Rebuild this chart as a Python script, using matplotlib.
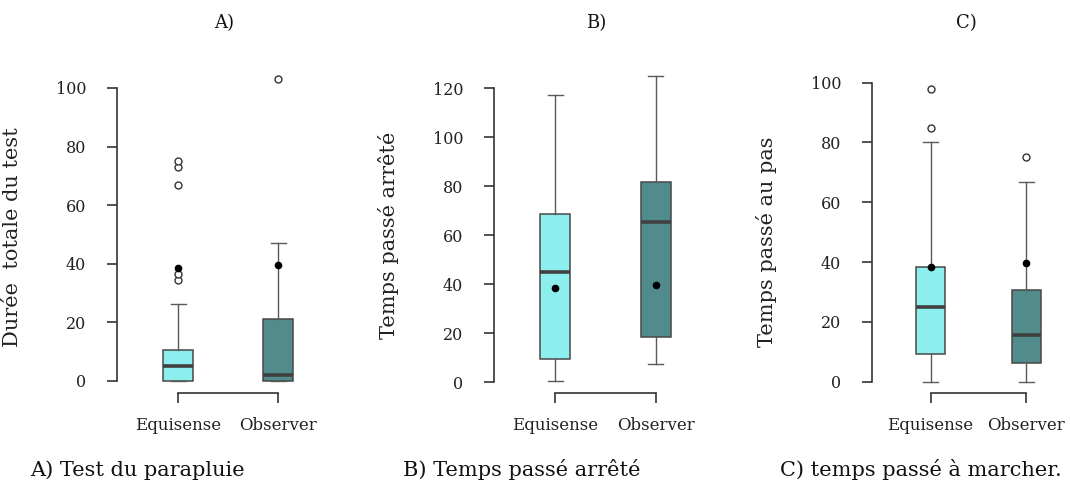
import matplotlib
matplotlib.use('Agg')
import matplotlib.pyplot as plt

# groups and colours (R darkslategray2 / darkslategray4)
groups = ['Equisense', 'Observer']
box_colors = ['#8DEEEE', '#528B8B']

titles = ['A)', 'B)', 'C)']
captions = ['A) Test du parapluie', 'B) Temps passé arrêté', 'C) temps passé à marcher.']
ylabels = ['Durée  totale du test', 'Temps passé arrêté', 'Temps passé au pas']
yticks = [[0, 20, 40, 60, 80, 100],
          [0, 20, 40, 60, 80, 100, 120],
          [0, 20, 40, 60, 80, 100]]

# box statistics: [Equisense, Observer] per panel
whislo = [[0, 0], [0.5, 7.3], [0, 0]]
q1 = [[0, 0], [9.3, 18.4], [9.1, 6.3]]
med = [[5.1, 2.0], [45.2, 65.4], [24.9, 15.6]]
q3 = [[10.6, 21.0], [68.7, 81.8], [38.2, 30.7]]
whishi = [[26.2, 47.0], [117.4, 125.2], [80.1, 66.8]]
fliers = [[[34.5, 36.5, 67, 73, 75], [103]],
          [[], []],
          [[85, 98], [75.2]]]
means = [[38.5, 39.5], [38.3, 39.6], [38.2, 39.6]]

W, H = 1070, 483
# pixel layout: left, width, top, bottom, ylim
layout = [
    (117, 222, 66.6, 393.0, (-4.1, 107.3)),
    (494, 223, 63.3, 393.3, (-4.5, 130.2)),
    (872, 213, 77.0, 393.4, (-3.92, 101.9)),
]
title_x = [224, 596, 966]
caption_x = [30, 403, 780]

plt.rcParams['font.family'] = 'DejaVu Serif'
fig = plt.figure(figsize=(W / 100, H / 100), dpi=100)

for i in range(3):
    left, width, top, bottom, ylim = layout[i]
    ax = fig.add_axes([left / W, (H - bottom) / H, width / W, (bottom - top) / H])

    stats = []
    for j in range(2):
        stats.append({'whislo': whislo[i][j], 'q1': q1[i][j], 'med': med[i][j],
                      'q3': q3[i][j], 'whishi': whishi[i][j],
                      'fliers': fliers[i][j], 'label': groups[j]})
    res = ax.bxp(stats, positions=[1, 2], widths=0.3, patch_artist=True,
                 boxprops=dict(edgecolor='#484848', linewidth=1.1),
                 medianprops=dict(color='#404040', linewidth=2.6, solid_capstyle='butt'),
                 whiskerprops=dict(color='#5a5a5a', linewidth=1.0),
                 capprops=dict(color='#5a5a5a', linewidth=1.0),
                 flierprops=dict(marker='o', markersize=5, markerfacecolor='white',
                                 markeredgecolor='#333333', markeredgewidth=1.0),
                 capwidths=0.15)
    for patch, c in zip(res['boxes'], box_colors):
        patch.set_facecolor(c)

    ax.plot([1, 2], means[i], 'o', color='black', markersize=4.5, zorder=5)

    ax.set_xlim(0.39, 2.61)
    ax.set_ylim(*ylim)
    ax.set_yticks(yticks[i])
    ax.set_xticks([1, 2])
    ax.set_xticklabels(groups, fontsize=12, color='#222222')
    ax.tick_params(axis='y', labelsize=11.5, length=7.2, width=1.2, pad=15,
                   colors='#333333', labelcolor='#222222')
    ax.tick_params(axis='x', length=7.2, width=1.2, pad=10, colors='#333333',
                   labelcolor='#222222')

    for s in ['top', 'right']:
        ax.spines[s].set_visible(False)
    ax.spines['left'].set_bounds(yticks[i][0], yticks[i][-1])
    ax.spines['bottom'].set_bounds(1, 2)
    for s in ['left', 'bottom']:
        ax.spines[s].set_color('#333333')
        ax.spines[s].set_linewidth(1.2)

    ax.set_ylabel(ylabels[i], fontsize=15, color='#222222')
    ax.yaxis.set_label_coords(-95 / width, 0.5 - 7 / (bottom - top))

    fig.text(title_x[i] / W, 1 - 23 / H, titles[i], ha='center', va='center',
             fontsize=13, color='#111111')
    fig.text(caption_x[i] / W, 1 - 470 / H, captions[i], ha='left', va='center',
             fontsize=15, color='#111111')

fig.savefig('out.png', dpi=100)
